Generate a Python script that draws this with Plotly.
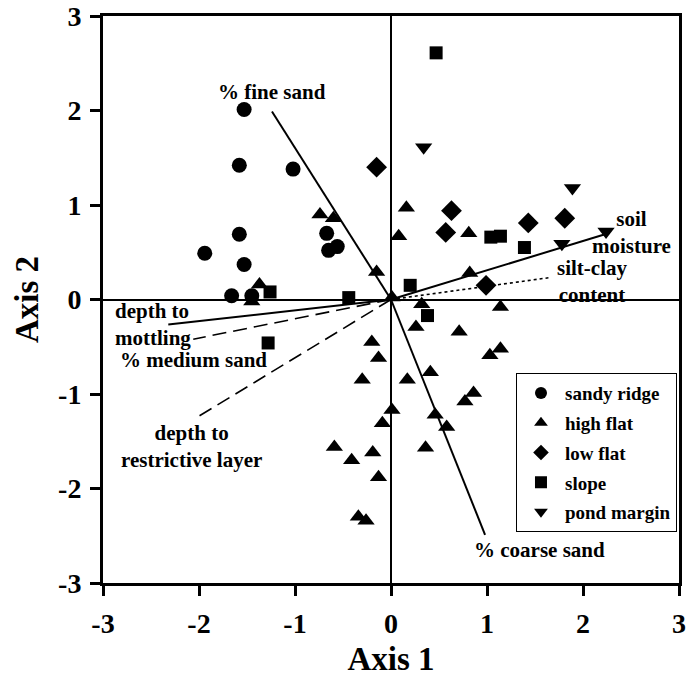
import plotly.graph_objects as go

# ---- data ----
sandy_x = [-1.53, -1.58, -1.02, -1.58, -1.53, -1.94, -1.66, -1.45, -0.67, -0.65, -0.56]
sandy_y = [2.01, 1.42, 1.38, 0.69, 0.37, 0.49, 0.04, 0.04, 0.70, 0.52, 0.56]

high_x = [-0.74, -0.60, -1.37, -1.45, -0.15, 0.01, -0.20, -0.13, -0.30, 0.17, 0.01, -0.09,
          -0.59, -0.41, -0.19, -0.13, -0.34, -0.26, 0.08, 0.16, 0.81, 0.82, 0.32, 1.14,
          0.26, 0.71, 1.03, 1.14, 0.41, 0.77, 0.86, 0.46, 0.58, 0.36]
high_y = [0.90, 0.86, 0.16, -0.02, 0.29, 0.02, -0.45, -0.62, -0.85, -0.85, -1.17, -1.31,
          -1.56, -1.70, -1.62, -1.88, -2.30, -2.34, 0.67, 0.97, 0.70, 0.28, -0.05, -0.08,
          -0.29, -0.34, -0.59, -0.52, -0.77, -1.08, -0.99, -1.22, -1.35, -1.57]

low_x = [-0.15, 0.63, 0.57, 1.43, 1.81, 0.99]
low_y = [1.40, 0.94, 0.71, 0.81, 0.86, 0.15]

slope_x = [0.47, 1.04, 1.14, 1.39, 0.20, -0.44, 0.38, -1.26, -1.28]
slope_y = [2.61, 0.66, 0.67, 0.55, 0.15, 0.02, -0.17, 0.08, -0.46]

pond_x = [0.34, 1.89, 2.24, 1.78]
pond_y = [1.61, 1.18, 0.72, 0.59]

vec_names = ["% fine sand", "% coarse sand", "soil moisture", "silt-clay content",
             "depth to mottling", "% medium sand", "depth to restrictive layer"]
vec_x = [-1.24, 0.98, 2.23, 1.64, -2.32, -2.06, -2.01]
vec_y = [1.99, -2.49, 0.69, 0.23, -0.265, -0.42, -1.24]

tick_vals = [-3, -2, -1, 0, 1, 2, 3]
tick_text = ["-3", "-2", "-1", "0", "1", "2", "3"]

FONT = "Liberation Serif"

fig = go.Figure()

vec_dash = {"% fine sand": "solid", "% coarse sand": "solid", "soil moisture": "solid",
            "silt-clay content": "dot", "depth to mottling": "solid",
            "% medium sand": "14px,7px", "depth to restrictive layer": "14px,7px"}
for name, vx, vy in zip(vec_names, vec_x, vec_y):
    dash = vec_dash[name]
    fig.add_trace(go.Scatter(
        x=[0, vx], y=[0, vy], mode="lines", showlegend=False, hoverinfo="skip",
        line=dict(color="black", width=2 if dash == "solid" else 1.6, dash=dash)))

groups = [
    ("sandy ridge", sandy_x, sandy_y, "circle", 15),
    ("high flat", high_x, high_y, "triangle-up", 15),
    ("low flat", low_x, low_y, "diamond", 16),
    ("slope", slope_x, slope_y, "square", 13),
    ("pond margin", pond_x, pond_y, "triangle-down", 15),
]
for i, (name, xs, ys, sym, sz) in enumerate(groups):
    fig.add_trace(go.Scatter(
        x=xs, y=ys, mode="markers", name=name, legendgroup=name,
        marker=dict(symbol=sym, size=sz, color="black", line=dict(width=0))))

ann_font = dict(family=FONT, size=21, color="black")
labels = [
    ("<b>% fine sand</b>", -1.24, 2.20, "center", "middle", "center"),
    ("<b>% coarse sand</b>", 1.55, -2.65, "center", "middle", "center"),
    ("<b>soil<br>moisture</b>", 2.50, 0.71, "center", "middle", "center"),
    ("<b>silt-clay<br>content</b>", 2.09, 0.19, "center", "middle", "center"),
    ("<b>depth to<br>mottling</b>", -2.90, -0.265, "left", "middle", "left"),
    ("<b>% medium sand</b>", -2.06, -0.635, "center", "middle", "center"),
    ("<b>depth to<br>restrictive layer</b>", -2.08, -1.56, "center", "middle", "center"),
]
for text, ax, ay, xa, ya, al in labels:
    fig.add_annotation(x=ax, y=ay, text=text, showarrow=False, xanchor=xa, yanchor=ya,
                       align=al, font=ann_font)

axis_common = dict(
    range=[-3, 3], tickvals=tick_vals, ticktext=tick_text, showgrid=False,
    zeroline=True, zerolinecolor="black", zerolinewidth=1.5,
    showline=True, linecolor="black", linewidth=3, mirror=True,
    ticks="outside", ticklen=10, tickwidth=3, tickcolor="black",
    tickfont=dict(family=FONT, size=28, color="black", weight="bold"),
    automargin=False,
)
fig.update_xaxes(**axis_common, ticklabelstandoff=3,
                 title=dict(text="<b>Axis 1</b>", font=dict(family=FONT, size=33, color="black"),
                            standoff=10))
fig.update_yaxes(**axis_common, ticklabelstandoff=3,
                 title=dict(text="<b>Axis 2</b>", font=dict(family=FONT, size=33, color="black"),
                            standoff=10))

fig.update_layout(
    width=695, height=685,
    margin=dict(l=103, r=16, t=16, b=102),
    plot_bgcolor="white", paper_bgcolor="white",
    font=dict(family=FONT, color="black"),
    legend=dict(x=0.9965, y=0.370, xanchor="right", yanchor="top",
                bordercolor="black", borderwidth=1, bgcolor="white",
                font=dict(family=FONT, size=19, color="black", weight="bold"),
                tracegroupgap=2, itemsizing="constant", itemwidth=38),
)

# remove the browser's default 8px body margin so the chart fills the window
fig.write_html("out.html", config={"displayModeBar": False},
               post_script="document.body.style.margin='0';document.body.style.overflow='hidden';")
